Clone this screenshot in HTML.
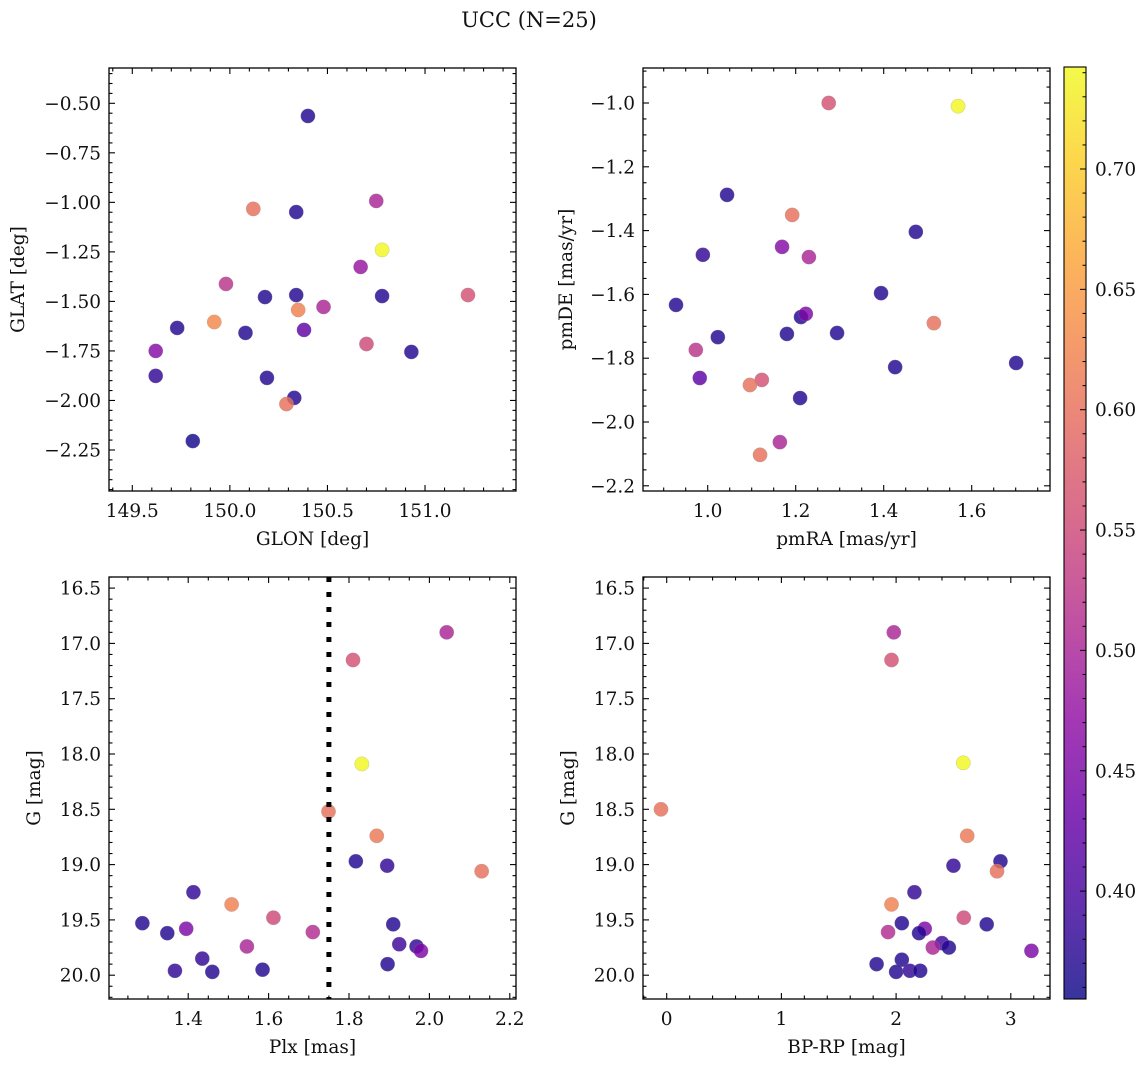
<!DOCTYPE html>
<html><head><meta charset="utf-8">
<style>
html,body{margin:0;padding:0;background:#fff;}
svg{display:block;font-family:"DejaVu Serif","Liberation Serif",serif;}
</style></head>
<body>
<svg id="fig" width="1148" height="1067" viewBox="0 0 1148 1067" xmlns="http://www.w3.org/2000/svg">
<text x="529" y="27" font-size="21" text-anchor="middle" fill="#111">UCC (N=25)</text>
</svg>
<script>
// ---- data ----
const glon = [150.40,150.12,150.34,150.75,150.78,150.67,149.98,150.18,150.34,150.35,150.48,150.78,151.22,149.92,149.73,150.08,150.38,150.70,150.93,149.62,149.62,150.19,150.33,150.29,149.81];
const glat = [-0.564,-1.033,-1.049,-0.993,-1.240,-1.326,-1.412,-1.478,-1.468,-1.543,-1.528,-1.473,-1.468,-1.604,-1.634,-1.659,-1.644,-1.715,-1.755,-1.750,-1.876,-1.886,-1.987,-2.018,-2.205];
const colA = [0.37,0.60,0.37,0.50,0.74,0.48,0.52,0.37,0.37,0.62,0.50,0.37,0.56,0.63,0.37,0.37,0.42,0.55,0.37,0.46,0.38,0.37,0.37,0.60,0.36];

const pmra = [1.275,1.569,1.044,1.192,1.169,1.230,0.989,1.473,1.394,0.928,1.514,1.212,1.223,1.023,1.180,1.294,0.973,1.701,1.426,0.982,1.123,1.096,1.210,1.164,1.119];
const pmde = [-1.00,-1.01,-1.288,-1.351,-1.451,-1.483,-1.476,-1.404,-1.596,-1.633,-1.690,-1.671,-1.661,-1.734,-1.724,-1.721,-1.774,-1.815,-1.828,-1.862,-1.868,-1.884,-1.925,-2.063,-2.103];
const colB = [0.56,0.74,0.37,0.60,0.46,0.50,0.38,0.37,0.37,0.37,0.60,0.37,0.45,0.37,0.37,0.37,0.52,0.37,0.37,0.42,0.56,0.60,0.37,0.50,0.60];

const plx = [2.043,1.81,1.832,1.749,1.869,1.817,1.895,2.130,1.413,1.508,1.612,1.286,1.910,1.348,1.395,1.710,1.925,1.546,1.968,1.979,1.435,1.896,1.367,1.585,1.460];
const gmagC = [16.90,17.15,18.09,18.52,18.74,18.97,19.01,19.06,19.25,19.36,19.48,19.53,19.54,19.62,19.58,19.61,19.72,19.74,19.74,19.78,19.85,19.90,19.96,19.95,19.97];
const colC = [0.50,0.56,0.74,0.60,0.61,0.37,0.38,0.60,0.38,0.62,0.55,0.37,0.37,0.37,0.45,0.51,0.39,0.50,0.38,0.45,0.38,0.37,0.38,0.37,0.37];

const bprp = [1.98,1.96,2.586,-0.05,2.62,2.91,2.50,2.88,2.16,1.96,2.59,2.05,2.79,2.25,1.93,2.20,2.40,2.46,2.32,3.18,2.05,1.83,2.00,2.12,2.21];
const gmagD = [16.90,17.15,18.08,18.50,18.74,18.97,19.01,19.06,19.25,19.36,19.48,19.53,19.54,19.58,19.61,19.62,19.71,19.75,19.75,19.78,19.86,19.90,19.97,19.96,19.96];
const colD = [0.50,0.56,0.74,0.60,0.61,0.37,0.38,0.60,0.38,0.62,0.55,0.37,0.37,0.45,0.51,0.37,0.39,0.37,0.50,0.45,0.37,0.37,0.37,0.38,0.37];

const ticksA_x = [149.5,150.0,150.5,151.0];
const ticksA_y = [-0.50,-0.75,-1.00,-1.25,-1.50,-1.75,-2.00,-2.25];
const ticksB_x = [1.0,1.2,1.4,1.6];
const ticksB_y = [-1.0,-1.2,-1.4,-1.6,-1.8,-2.0,-2.2];
const ticksC_x = [1.4,1.6,1.8,2.0,2.2];
const ticksG = [16.5,17.0,17.5,18.0,18.5,19.0,19.5,20.0];
const ticksD_x = [0,1,2,3];
const ticksCbar = [0.40,0.45,0.50,0.55,0.60,0.65,0.70];
const plxCut = 1.75;
const cmin = 0.355, cmax = 0.742;

// ---- helpers ----
const NS = "http://www.w3.org/2000/svg";
const svg = document.getElementById('fig');
const FS = 18.5;
function mk(tag, attrs, parent){
  const e = document.createElementNS(NS, tag);
  for (const k in attrs) e.setAttribute(k, attrs[k]);
  (parent||svg).appendChild(e);
  return e;
}
const plasma = [[13,8,135],[65,4,157],[106,0,168],[143,13,164],[177,42,144],[204,71,120],[225,100,98],[242,132,75],[252,166,54],[252,206,37],[240,249,33]];
function cmap(v){
  let t = (v-cmin)/(cmax-cmin); t = Math.max(0,Math.min(1,t));
  const f = t*10, i = Math.min(9,Math.floor(f)), r = f-i;
  const a = plasma[i], b = plasma[i+1];
  return `rgb(${Math.round(a[0]+(b[0]-a[0])*r)},${Math.round(a[1]+(b[1]-a[1])*r)},${Math.round(a[2]+(b[2]-a[2])*r)})`;
}
function fmt(v, d){ return (v<0?'\u2212':'') + Math.abs(v).toFixed(d); }

function panel(cfg){
  const g = mk('g', {});
  
  
  const {L,R,T,B} = cfg;
  const sx = v => L + (v-cfg.x0)/(cfg.x1-cfg.x0)*(R-L);
  const sy = v => T + (v-cfg.y0)/(cfg.y1-cfg.y0)*(B-T);
  const pts = mk('g', {}, g);
  
  
  for (let i=0;i<cfg.xs.length;i++){
    const c = mk('circle', {cx:sx(cfg.xs[i]), cy:sy(cfg.ys[i]), r:7.2, fill:cmap(cfg.cs[i]), 'fill-opacity':0.82, stroke:'#999', 'stroke-width':0.4, 'stroke-opacity':0.6}, pts);
    
    
  }
  if (cfg.vline !== undefined){
    const l = mk('line', {x1:sx(cfg.vline), x2:sx(cfg.vline), y1:T, y2:B, stroke:'#000', 'stroke-width':5, 'stroke-dasharray':'5 10'}, g);
    
    
  }
  const fr = mk('rect', {x:L, y:T, width:R-L, height:B-T, fill:'none', stroke:'#000', 'stroke-width':1.3}, g);
  
  
  const tk = mk('g', {stroke:'#000', 'stroke-width':1.1}, g);
  
  
  const xlo = Math.min(cfg.x0,cfg.x1), xhi = Math.max(cfg.x0,cfg.x1);
  const ylo = Math.min(cfg.y0,cfg.y1), yhi = Math.max(cfg.y0,cfg.y1);
  for (let k=Math.ceil(xlo/cfg.xmin-1e-6); k*cfg.xmin<=xhi+1e-9; k++){
    const v = k*cfg.xmin, x = sx(v);
    const major = cfg.xt.some(t=>Math.abs(t-v)<1e-6);
    const len = major?6:3.5;
    mk('line', {x1:x,x2:x,y1:B,y2:B-len}, tk); mk('line', {x1:x,x2:x,y1:T,y2:T+len}, tk);
  }
  for (let k=Math.ceil(ylo/cfg.ymin-1e-6); k*cfg.ymin<=yhi+1e-9; k++){
    const v = k*cfg.ymin, y = sy(v);
    const major = cfg.yt.some(t=>Math.abs(t-v)<1e-6);
    const len = major?6:3.5;
    mk('line', {x1:L,x2:L+len,y1:y,y2:y}, tk); mk('line', {x1:R,x2:R-len,y1:y,y2:y}, tk);
  }
  for (const v of cfg.xt){
    const t = mk('text', {x:sx(v), y:B+26, 'font-size':FS, 'text-anchor':'middle', fill:'#111'}, g);
    t.textContent = fmt(v, cfg.xd);
    
    
  }
  for (const v of cfg.yt){
    const t = mk('text', {x:L-8, y:sy(v)+6.5, 'font-size':FS, 'text-anchor':'end', fill:'#111'}, g);
    t.textContent = fmt(v, cfg.yd);
    
    
  }
  const xl = mk('text', {x:(L+R)/2, y:B+54, 'font-size':FS, 'text-anchor':'middle', fill:'#111'}, g);
  xl.textContent = cfg.xlabel;
  
  
  const yl = mk('text', {x:0, y:0, 'font-size':FS, 'text-anchor':'middle', fill:'#111', transform:`translate(${cfg.ylx},${(T+B)/2}) rotate(-90)`}, g);
  yl.textContent = cfg.ylabel;
  
  
}

panel({name:'glon-glat-panel', L:109, R:516, T:68, B:491,
  x0:149.5-(132.3-109)/195.2, x1:151.0+(516-425)/195.2,
  y0:-0.5+(103.3-68)/198.1, y1:-0.5-(491-103.3)/198.1,
  xs:glon, ys:glat, cs:colA, xt:ticksA_x, yt:ticksA_y, xmin:0.1, ymin:0.05, xd:1, yd:2,
  xlabel:'GLON [deg]', ylabel:'GLAT [deg]', ylx:24});
panel({name:'pmra-pmde-panel', L:643, R:1050, T:68, B:491,
  x0:1.0-(707.7-643)/440, x1:1.0+(1050-707.7)/440,
  y0:-1.0+(103-68)/319, y1:-1.0-(491-103)/319,
  xs:pmra, ys:pmde, cs:colB, xt:ticksB_x, yt:ticksB_y, xmin:0.05, ymin:0.05, xd:1, yd:1,
  xlabel:'pmRA [mas/yr]', ylabel:'pmDE [mas/yr]', ylx:572});
panel({name:'plx-g-panel', L:109, R:516, T:577, B:999,
  x0:1.8-(349-109)/402, x1:1.8+(516-349)/402,
  y0:18.0-(754-577)/110.6, y1:18.0+(999-754)/110.6,
  xs:plx, ys:gmagC, cs:colC, xt:ticksC_x, yt:ticksG, xmin:0.05, ymin:0.1, xd:1, yd:1,
  xlabel:'Plx [mas]', ylabel:'G [mag]', ylx:40, vline:plxCut});
panel({name:'bprp-g-panel', L:643, R:1050, T:577, B:999,
  x0:0-(666.7-643)/114.7, x1:(1050-666.7)/114.7,
  y0:18.0-(754-577)/110.6, y1:18.0+(999-754)/110.6,
  xs:bprp, ys:gmagD, cs:colD, xt:ticksD_x, yt:ticksG, xmin:0.2, ymin:0.1, xd:0, yd:1,
  xlabel:'BP-RP [mag]', ylabel:'G [mag]', ylx:574});

(function(){
  const L=1064, R=1086, T=67, B=999;
  const sy = v => 169 + (0.70-v)*2407;
  const g = mk('g', {});
  
  
  const defs = mk('defs', {}, g);
  const lg = mk('linearGradient', {id:'cb', x1:0, y1:1, x2:0, y2:0}, defs);
  for (let i=0;i<=20;i++){
    const v = cmin + (cmax-cmin)*i/20;
    mk('stop', {offset:(i/20), 'stop-color':cmap(v), 'stop-opacity':0.82}, lg);
  }
  const r = mk('rect', {x:L, y:T, width:R-L, height:B-T, fill:'url(#cb)', stroke:'#000', 'stroke-width':1.1}, g);
  
  
  const tk = mk('g', {stroke:'#000', 'stroke-width':1}, g);
  for (let k=36; k<=74; k++){
    const v = k/100, y = sy(v);
    if (y<T || y>B) continue;
    const major = (k%5===0);
    mk('line', {x1:R, x2:R-(major?6:3.5), y1:y, y2:y}, tk);
  }
  for (const v of ticksCbar){
    const t = mk('text', {x:R+9, y:sy(v)+6.5, 'font-size':FS, fill:'#111'}, g);
    t.textContent = v.toFixed(2);
    
    
  }
})();
</script>
</body></html>
